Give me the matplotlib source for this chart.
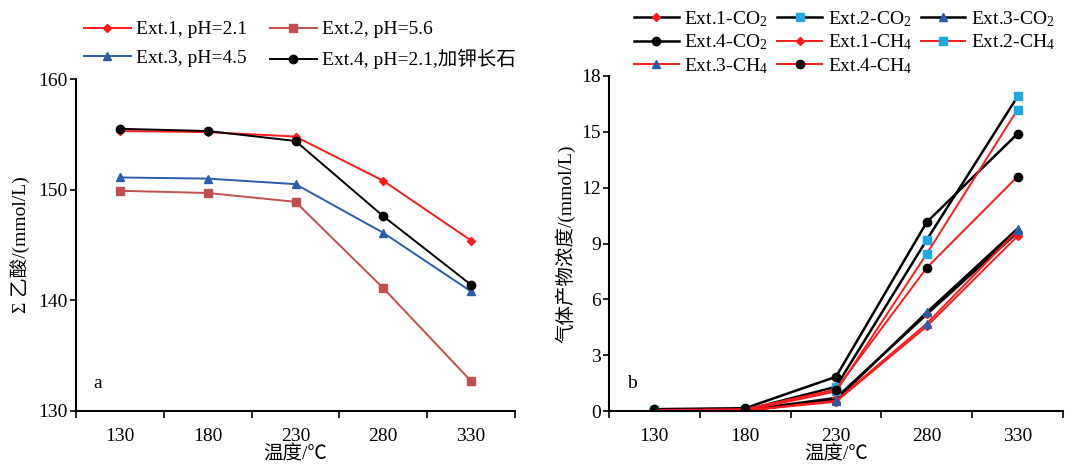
import matplotlib
matplotlib.use("Agg")
import matplotlib.pyplot as plt
import numpy as np

plt.rcParams['font.family'] = ['Liberation Serif', 'Noto Sans CJK SC']
plt.rcParams['mathtext.fontset'] = 'custom'
plt.rcParams['mathtext.rm'] = 'Liberation Serif'
plt.rcParams['mathtext.it'] = 'Liberation Serif:italic'

temps = ['130', '180', '230', '280', '330']

# Panel a: total acetic acid (mmol/L)
a_ext1 = [155.3, 155.2, 154.8, 150.8, 145.4]
a_ext2 = [149.9, 149.7, 148.9, 141.1, 132.7]
a_ext3 = [151.1, 151.0, 150.5, 146.1, 140.8]
a_ext4 = [155.5, 155.3, 154.4, 147.6, 141.4]
a_labels = ['Ext.1, pH=2.1', 'Ext.2, pH=5.6', 'Ext.3, pH=4.5', 'Ext.4, pH=2.1,加钾长石']

# Panel b: gas products (mmol/L)
co2_ext1 = [0.0, 0.05, 0.7, 5.2, 9.6]
co2_ext2 = [0.05, 0.05, 1.3, 9.2, 16.9]
co2_ext3 = [0.0, 0.02, 0.6, 5.3, 9.8]
co2_ext4 = [0.1, 0.15, 1.84, 10.15, 14.9]
ch4_ext1 = [0.0, 0.02, 0.5, 4.55, 9.4]
ch4_ext2 = [0.0, 0.02, 1.05, 8.45, 16.2]
ch4_ext3 = [0.0, 0.02, 0.55, 4.7, 9.7]
ch4_ext4 = [0.05, 0.1, 1.15, 7.7, 12.6]

RED = '#ff1a1a'
BROWN = '#c0504d'
BLUE = '#2a5caa'
CYAN = '#1ea7e1'

W, H = 1069, 466
fig = plt.figure(figsize=(W / 100, H / 100), dpi=100)

axa = fig.add_axes([76 / W, 1 - 411 / H, (515 - 76) / W, (411 - 79) / H])
axb = fig.add_axes([609 / W, 1 - 411 / H, (1063 - 609) / W, (411 - 76) / H])

x = np.arange(len(temps))
FS = 14


def rowwise(ax, ncol):
    h, l = ax.get_legend_handles_labels()
    n = len(h)
    nrow = int(np.ceil(n / ncol))
    order = []
    for c in range(ncol):
        for r in range(nrow):
            i = r * ncol + c
            if i < n:
                order.append(i)
    return [h[i] for i in order], [l[i] for i in order]


# Panel a
axa.plot(x, a_ext1, color=RED, lw=1.4, marker='D', ms=4, label=a_labels[0])
axa.plot(x, a_ext2, color=BROWN, lw=1.4, marker='s', ms=6, label=a_labels[1])
axa.plot(x, a_ext3, color=BLUE, lw=1.4, marker='^', ms=6, label=a_labels[2])
axa.plot(x, a_ext4, color='black', lw=1.4, marker='o', ms=6, label=a_labels[3])
axa.set_ylim(130, 160)
axa.set_yticks([130, 140, 150, 160])
axa.set_ylabel('Σ 乙酸/(mmol/L)', fontsize=FS, labelpad=6)
axa.text(0.04, 0.07, 'a', transform=axa.transAxes, fontsize=FS)
h, l = rowwise(axa, 2)
axa.legend(h, l, loc='upper left', bbox_to_anchor=(80 / W, 1 - 17 / H), bbox_transform=fig.transFigure,
           ncol=2, frameon=False, fontsize=FS, handlelength=2.4, handletextpad=0.3,
           columnspacing=1.15, labelspacing=0.55, borderaxespad=0, borderpad=0.2)

# Panel b
b_series = [
    (co2_ext1, 'black', RED, 'D', 4, 1.8, 'Ext.1-CO$_2$'),
    (co2_ext2, 'black', CYAN, 's', 6, 1.8, 'Ext.2-CO$_2$'),
    (co2_ext3, 'black', BLUE, '^', 6, 1.8, 'Ext.3-CO$_2$'),
    (co2_ext4, 'black', 'black', 'o', 6, 1.8, 'Ext.4-CO$_2$'),
    (ch4_ext1, RED, RED, 'D', 4, 1.4, 'Ext.1-CH$_4$'),
    (ch4_ext2, RED, CYAN, 's', 6, 1.4, 'Ext.2-CH$_4$'),
    (ch4_ext3, RED, BLUE, '^', 6, 1.4, 'Ext.3-CH$_4$'),
    (ch4_ext4, RED, 'black', 'o', 6, 1.4, 'Ext.4-CH$_4$'),
]
for vals, lc, mc, mk, ms, lw, lab in b_series:
    axb.plot(x, vals, color=lc, lw=lw, marker=mk, ms=ms, mfc=mc, mec=mc, label=lab)
axb.set_ylim(0, 18)
axb.set_yticks([0, 3, 6, 9, 12, 15, 18])
axb.set_ylabel('气体产物浓度/(mmol/L)', fontsize=FS, labelpad=4)
axb.text(0.04, 0.07, 'b', transform=axb.transAxes, fontsize=FS)
h, l = rowwise(axb, 3)
axb.legend(h, l, loc='upper left', bbox_to_anchor=(630 / W, 1 - 5 / H), bbox_transform=fig.transFigure,
           ncol=3, frameon=False, fontsize=FS, handlelength=2.3, handletextpad=0.3,
           columnspacing=0.45, labelspacing=0.2, borderaxespad=0, borderpad=0.2)

for ax in (axa, axb):
    ax.set_xlim(-0.5, len(temps) - 0.5)
    ax.set_xticks(x)
    ax.set_xticklabels(temps, fontsize=FS)
    ax.set_xticks(np.arange(-0.5, len(temps) + 0.5, 1), minor=True)
    ax.tick_params(axis='x', which='major', length=0, pad=12)
    ax.tick_params(axis='x', which='minor', length=5, width=1.2, direction='out')
    ax.tick_params(axis='y', length=4, width=1.2, direction='out', labelsize=FS, pad=2)
    for s in ('top', 'right'):
        ax.spines[s].set_visible(False)
    for s in ('left', 'bottom'):
        ax.spines[s].set_linewidth(1.5)
    ax.set_xlabel('温度/℃', fontsize=FS, labelpad=0)

fig.savefig('out.png', dpi=100)
